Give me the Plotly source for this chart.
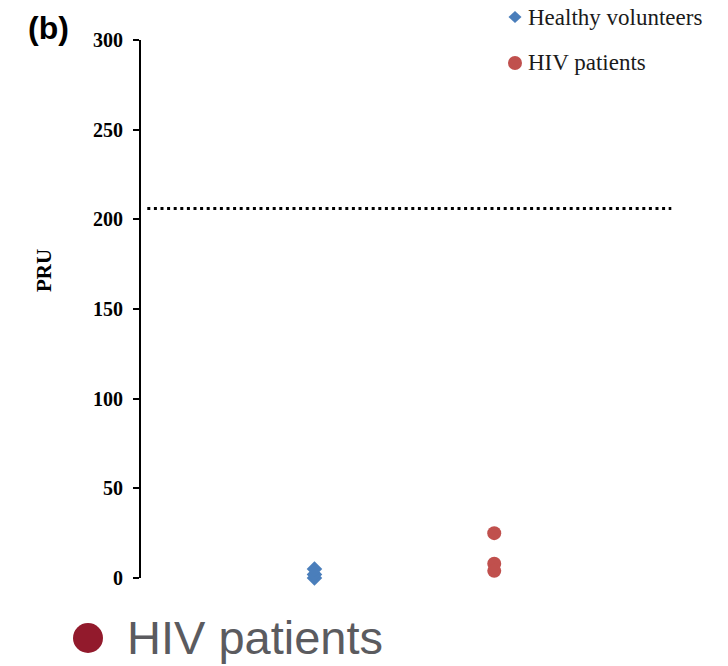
import plotly.graph_objects as go

# ---- data -------------------------------------------------------------
group_labels = ["Healthy volunteers", "HIV patients"]
group_x = [1, 2]
healthy_pru = [0, 2, 5]
hiv_pru = [25, 8, 4]
cutoff_pru = 206
cutoff_x = [0.07, 2.985]
y_ticks = [0, 50, 100, 150, 200, 250, 300]

BLUE = "#4A7EBB"
RED = "#C0504D"
DARK_RED = "#921A2C"
GRAY = "#5B5B5F"

W, H = 728, 666
L, R, T, B = 141, 54, 40, 88
PW, PH = W - L - R, H - T - B


def px(x):
    return (x - L) / PW


def py(y):
    return (H - B - y) / PH


fig = go.Figure()

fig.add_trace(go.Scatter(
    x=cutoff_x, y=[cutoff_pru] * len(cutoff_x), mode="lines",
    line=dict(color="black", width=3, dash="3px,3.6px"),
    showlegend=False, hoverinfo="skip"))

fig.add_trace(go.Scatter(
    x=[group_x[0]] * len(healthy_pru), y=healthy_pru, mode="markers",
    name=group_labels[0],
    marker=dict(symbol="diamond", size=12, color=BLUE),
    cliponaxis=False, showlegend=False))

fig.add_trace(go.Scatter(
    x=[group_x[1]] * len(hiv_pru), y=hiv_pru, mode="markers",
    name=group_labels[1],
    marker=dict(symbol="circle", size=14, color=RED),
    cliponaxis=False, showlegend=False))

serif = "Liberation Serif, Times New Roman, serif"
sans = "Liberation Sans, Arial, sans-serif"

annotations = [
    dict(text="<b>(b)</b>", x=px(48), y=py(28), font=dict(family=sans, size=32, color="black")),
    dict(text="<b>PRU</b>", x=px(44), y=py(271), textangle=-90,
         font=dict(family=serif, size=21, color="black")),
    dict(text=group_labels[0], x=px(526), y=py(18), xanchor="left",
         font=dict(family=serif, size=23, color="#1a1a1a")),
    dict(text=group_labels[1], x=px(526), y=py(63), xanchor="left",
         font=dict(family=serif, size=23, color="#1a1a1a")),
    dict(text=group_labels[1], x=px(125), y=py(637), xanchor="left",
         font=dict(family=sans, size=47, color=GRAY)),
]
for a in annotations:
    a.update(xref="paper", yref="paper", showarrow=False)
    a.setdefault("xanchor", "center")
    a.setdefault("yanchor", "middle")

shapes = [
    # legend key: diamond
    dict(type="path", xref="paper", yref="paper", xsizemode="pixel", ysizemode="pixel",
         xanchor=px(515), yanchor=py(17),
         path="M 0 6 L 6.5 0 L 0 -6 L -6.5 0 Z", fillcolor=BLUE, line=dict(width=0)),
    # legend key: circle
    dict(type="circle", xref="paper", yref="paper", xsizemode="pixel", ysizemode="pixel",
         xanchor=px(515), yanchor=py(63), x0=-7, x1=7, y0=-7, y1=7,
         fillcolor=RED, line=dict(width=0)),
    # large caption marker
    dict(type="circle", xref="paper", yref="paper", xsizemode="pixel", ysizemode="pixel",
         xanchor=px(88), yanchor=py(638), x0=-15, x1=15, y0=-15, y1=15,
         fillcolor=DARK_RED, line=dict(width=0)),
]

fig.update_layout(
    width=W, height=H,
    margin=dict(l=L, r=R, t=T, b=B),
    paper_bgcolor="white", plot_bgcolor="white",
    showlegend=False,
    annotations=annotations,
    shapes=shapes,
    xaxis=dict(range=[0.035, 3.0], visible=False, showgrid=False, zeroline=False),
    yaxis=dict(
        range=[0, 300], tickvals=y_ticks, ticktext=[str(v) for v in y_ticks],
        showline=True, linecolor="black", linewidth=2,
        ticks="outside", ticklen=6, tickwidth=2, tickcolor="black",
        ticklabelstandoff=6,
        showgrid=False, zeroline=False,
        tickfont=dict(family=serif, size=20, color="black", weight="bold"),
    ),
)

fig.write_html("out.html")
